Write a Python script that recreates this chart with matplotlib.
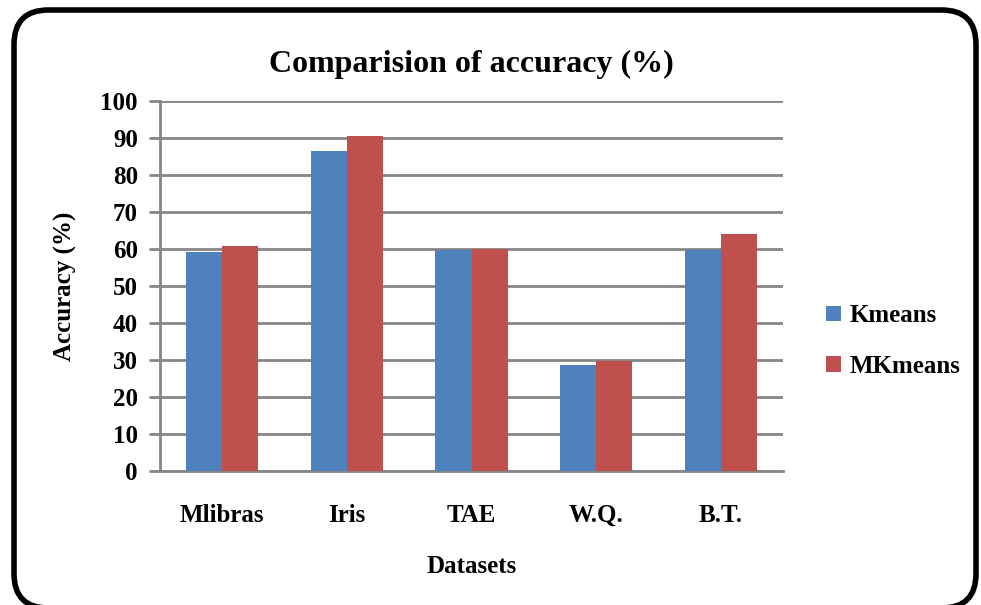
import matplotlib
matplotlib.use("Agg")
import matplotlib.pyplot as plt
from matplotlib.patches import FancyBboxPatch
import numpy as np

categories = ["Mlibras", "Iris", "TAE", "W.Q.", "B.T."]
kmeans = [59.1, 86.6, 59.7, 28.5, 59.7]
mkmeans = [60.7, 90.4, 60.0, 29.7, 64.0]
series_names = ["Kmeans", "MKmeans"]
yticks = list(range(0, 101, 10))

plt.rcParams['font.family'] = ['Liberation Serif', 'DejaVu Serif']
plt.rcParams['font.weight'] = 'bold'

fig = plt.figure(figsize=(9.81, 6.05), dpi=100)
ax = fig.add_axes([160/981, 1-470.7/605, (783-160)/981, (470.7-101)/605])

x = np.arange(len(categories))
w = 0.29
blue = "#4F81BD"
red = "#C0504D"
ax.bar(x - w/2, kmeans, width=w, color=blue, label=series_names[0], zorder=3)
ax.bar(x + w/2, mkmeans, width=w, color=red, label=series_names[1], zorder=3)

ax.set_xlim(-0.5, len(categories) - 0.5)
ax.set_ylim(0, 100)
ax.set_yticks(yticks)
ax.set_xticks(x)
ax.set_xticklabels(categories, fontsize=18, fontweight='bold')
ax.set_yticklabels([str(t) for t in yticks], fontsize=18, fontweight='bold')
ax.grid(axis='y', color='#868686', linewidth=2, zorder=0)
for s in ['top', 'right']:
    ax.spines[s].set_visible(False)
for s in ['left', 'bottom']:
    ax.spines[s].set_color('#868686')
    ax.spines[s].set_linewidth(2)
ax.tick_params(axis='y', length=8, width=2, color='#868686', pad=8)
ax.tick_params(axis='x', length=0, pad=24)

ax.set_title("Comparision of accuracy (%)", fontsize=23, fontweight='bold', pad=21)
ax.set_ylabel("Accuracy (%)", fontsize=18, fontweight='bold', labelpad=17)
ax.set_xlabel("Datasets", fontsize=18, fontweight='bold', labelpad=20)

leg = fig.legend(loc='center left', bbox_to_anchor=(826/981, 1-341/605), frameon=False,
                 handlelength=0.6, handleheight=0.6, handletextpad=0.35,
                 labelspacing=1.1, borderpad=0, borderaxespad=0,
                 prop={'weight': 'bold', 'size': 18})

border = FancyBboxPatch((14/981, 1-608/605), (976-14)/981, (608-10)/605,
                        boxstyle="round,pad=0,rounding_size=0.035",
                        transform=fig.transFigure, facecolor='none', edgecolor='black',
                        linewidth=4, clip_on=False, mutation_aspect=981/605)
fig.patches.append(border)

fig.savefig("out.png", dpi=100)
